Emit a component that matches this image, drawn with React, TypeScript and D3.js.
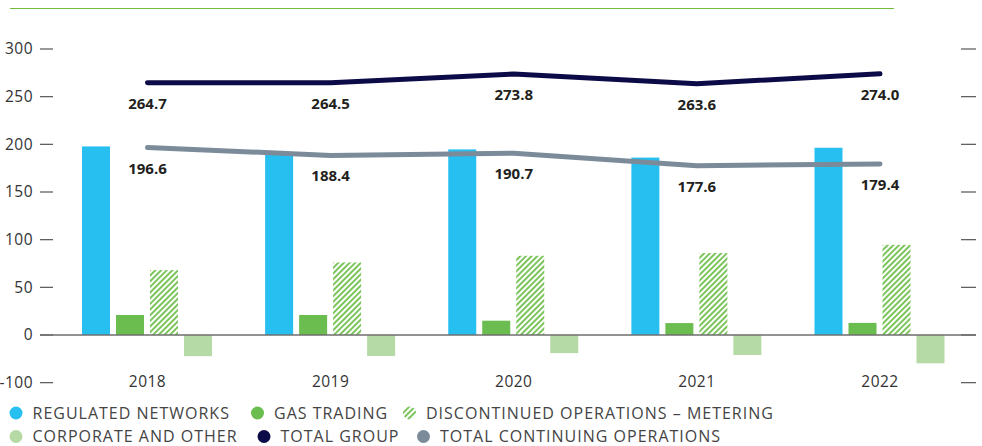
import React, { useEffect, useRef } from 'react'
import * as d3 from 'd3'

const years = ['2018', '2019', '2020', '2021', '2022']
const regulated = [197.8, 189.4, 194.7, 186.1, 196.4]
const gasTrading = [21.0, 21.0, 15.0, 12.5, 12.7]
const metering = [68.1, 76.1, 83.1, 86.0, 94.6]
const corporate = [-22.2, -22.0, -19.0, -21.0, -29.7]
const totalGroup = [264.7, 264.5, 273.8, 263.6, 274.0]
const totalContinuing = [196.6, 188.4, 190.7, 177.6, 179.4]

// the bottom tick sits one step under 0 but the source labels it -100
const tickValues = [300, 250, 200, 150, 100, 50, 0, -50]
const tickLabels = ['300', '250', '200', '150', '100', '50', '0', '-100']

const barSeries = ['regulated', 'gas', 'metering', 'corporate']
const legendRow1 = ['REGULATED NETWORKS', 'GAS TRADING', 'DISCONTINUED OPERATIONS – METERING']
const legendRow2 = ['CORPORATE AND OTHER', 'TOTAL GROUP', 'TOTAL CONTINUING OPERATIONS']

const BLUE = '#27bfef'
const GREEN = '#6cbd4f'
const LIGHT = '#b6daa5'
const NAVY = '#0c0b47'
const GREY = '#7b8b9a'

function App() {
  const ref = useRef(null)

  useEffect(() => {
    const w = 982
    const h = 446
    const svg = d3.select(ref.current).attr('width', w).attr('height', h)
    svg.selectAll('*').remove()

    const font = "'Open Sans', sans-serif"

    // hatch for metering
    const defs = svg.append('defs')
    const pat = defs.append('pattern')
      .attr('id', 'hatch')
      .attr('patternUnits', 'userSpaceOnUse')
      .attr('width', 4)
      .attr('height', 4)
      .attr('patternTransform', 'rotate(45)')
    pat.append('rect').attr('width', 4).attr('height', 4).attr('fill', '#fff')
    pat.append('line')
      .attr('x1', 1).attr('y1', 0).attr('x2', 1).attr('y2', 4)
      .attr('stroke', '#7cc45c').attr('stroke-width', 2)

    // scales
    const y = d3.scaleLinear().domain([0, 300]).range([335, 49])
    const x = d3.scalePoint().domain(years).range([147.5, 880])
    const sub = d3.scaleBand().domain(barSeries).range([-68.5, 67.5])
      .paddingInner(6 / 34).paddingOuter(3 / 34)

    // top rule
    svg.append('line')
      .attr('x1', 10).attr('x2', 894).attr('y1', 8.5).attr('y2', 8.5)
      .attr('stroke', '#72bf3f').attr('stroke-width', 1.2)

    // axis labels and dashes
    const ticks = svg.append('g')
    tickValues.forEach((v, i) => {
      const ty = y(v)
      ticks.append('text')
        .text(tickLabels[i])
        .attr('x', 33)
        .attr('y', ty)
        .attr('dy', '0.35em')
        .attr('text-anchor', 'end')
        .attr('font-family', font)
        .attr('font-size', 15.5)
        .attr('letter-spacing', 0.5)
        .attr('fill', '#333')
      ticks.append('line')
        .attr('x1', 40).attr('x2', 53).attr('y1', ty).attr('y2', ty)
        .attr('stroke', '#555').attr('stroke-width', 1.2)
      ticks.append('line')
        .attr('x1', 961).attr('x2', 976).attr('y1', ty).attr('y2', ty)
        .attr('stroke', '#555').attr('stroke-width', 1.2)
    })

    // bars
    const seriesData = {
      regulated: { vals: regulated, fill: BLUE },
      gas: { vals: gasTrading, fill: GREEN },
      metering: { vals: metering, fill: 'url(#hatch)' },
      corporate: { vals: corporate, fill: LIGHT },
    }
    barSeries.forEach(key => {
      const s = seriesData[key]
      svg.append('g')
        .selectAll('rect')
        .data(years)
        .join('rect')
        .attr('x', (d) => x(d) + sub(key))
        .attr('width', sub.bandwidth())
        .attr('y', (d, i) => y(Math.max(0, s.vals[i])))
        .attr('height', (d, i) => Math.abs(y(s.vals[i]) - y(0)))
        .attr('fill', s.fill)
    })

    // zero line
    svg.append('line')
      .attr('x1', 40).attr('x2', 976).attr('y1', y(0)).attr('y2', y(0))
      .attr('stroke', '#6e6e6e').attr('stroke-width', 1.5)

    // year labels
    svg.append('g')
      .selectAll('text')
      .data(years)
      .join('text')
      .text(d => d)
      .attr('x', d => x(d))
      .attr('y', 387)
      .attr('text-anchor', 'middle')
      .attr('font-family', font)
      .attr('font-size', 15.5)
      .attr('letter-spacing', 0.5)
      .attr('fill', '#333')

    // total lines
    const line = d3.line()
      .x((d, i) => x(years[i]))
      .y(d => y(d))

    const lines = [
      { vals: totalContinuing, color: GREY },
      { vals: totalGroup, color: NAVY },
    ]
    lines.forEach(l => {
      svg.append('path')
        .attr('d', line(l.vals))
        .attr('fill', 'none')
        .attr('stroke', l.color)
        .attr('stroke-width', 5)
        .attr('stroke-linecap', 'round')
        .attr('stroke-linejoin', 'round')

      svg.append('g')
        .selectAll('text')
        .data(l.vals)
        .join('text')
        .text(d => d.toFixed(1))
        .attr('x', (d, i) => x(years[i]))
        .attr('y', d => y(d) + 26)
        .attr('text-anchor', 'middle')
        .attr('font-family', font)
        .attr('font-size', 15)
        .attr('font-weight', 'bold')
        .attr('fill', '#231f20')
    })

    // legend
    const legend = svg.append('g')
    const items = [
      { label: legendRow1[0], fill: BLUE, cx: 16, cy: 413 },
      { label: legendRow1[1], fill: GREEN, cx: 257.5, cy: 413 },
      { label: legendRow1[2], fill: 'url(#hatch)', cx: 409.5, cy: 413 },
      { label: legendRow2[0], fill: LIGHT, cx: 16, cy: 436.5 },
      { label: legendRow2[1], fill: NAVY, cx: 264, cy: 436.5 },
      { label: legendRow2[2], fill: GREY, cx: 423.5, cy: 436.5 },
    ]
    items.forEach(it => {
      legend.append('circle')
        .attr('cx', it.cx)
        .attr('cy', it.cy)
        .attr('r', 6.5)
        .attr('fill', it.fill)
      legend.append('text')
        .text(it.label)
        .attr('x', it.cx + 16.5)
        .attr('y', it.cy)
        .attr('dy', '0.36em')
        .attr('font-family', font)
        .attr('font-size', 16)
        .attr('letter-spacing', 1)
        .attr('fill', '#444')
    })
  })

  return (
    <div className="chart">
      <svg ref={ref} style={{ position: 'absolute', left: 0, top: 0 }}></svg>
    </div>
  )
}

export default App
